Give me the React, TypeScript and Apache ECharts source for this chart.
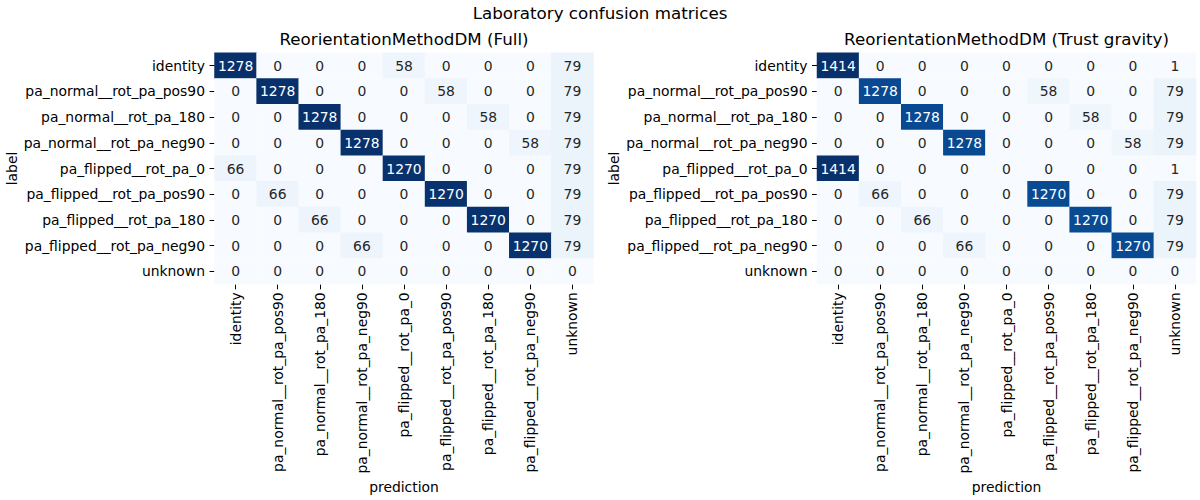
import React, { useEffect, useRef } from "react";
import * as echarts from "echarts";

const categories = [
  "identity",
  "pa_normal__rot_pa_pos90",
  "pa_normal__rot_pa_180",
  "pa_normal__rot_pa_neg90",
  "pa_flipped__rot_pa_0",
  "pa_flipped__rot_pa_pos90",
  "pa_flipped__rot_pa_180",
  "pa_flipped__rot_pa_neg90",
  "unknown",
];

const matrixFull = [
  [1278, 0, 0, 0, 58, 0, 0, 0, 79],
  [0, 1278, 0, 0, 0, 58, 0, 0, 79],
  [0, 0, 1278, 0, 0, 0, 58, 0, 79],
  [0, 0, 0, 1278, 0, 0, 0, 58, 79],
  [66, 0, 0, 0, 1270, 0, 0, 0, 79],
  [0, 66, 0, 0, 0, 1270, 0, 0, 79],
  [0, 0, 66, 0, 0, 0, 1270, 0, 79],
  [0, 0, 0, 66, 0, 0, 0, 1270, 79],
  [0, 0, 0, 0, 0, 0, 0, 0, 0],
];

const matrixTrust = [
  [1414, 0, 0, 0, 0, 0, 0, 0, 1],
  [0, 1278, 0, 0, 0, 58, 0, 0, 79],
  [0, 0, 1278, 0, 0, 0, 58, 0, 79],
  [0, 0, 0, 1278, 0, 0, 0, 58, 79],
  [1414, 0, 0, 0, 0, 0, 0, 0, 1],
  [0, 66, 0, 0, 0, 1270, 0, 0, 79],
  [0, 0, 66, 0, 0, 0, 1270, 0, 79],
  [0, 0, 0, 66, 0, 0, 0, 1270, 79],
  [0, 0, 0, 0, 0, 0, 0, 0, 0],
];

const suptitle = "Laboratory confusion matrices";
const subtitles = ["ReorientationMethodDM (Full)", "ReorientationMethodDM (Trust gravity)"];
const xName = "prediction";
const yName = "label";

const BLUES = [
  "#f7fbff",
  "#deebf7",
  "#c6dbef",
  "#9ecae1",
  "#6baed6",
  "#4292c6",
  "#2171b5",
  "#08519c",
  "#08306b",
];

const FONT = "DejaVu Sans";

function toData(m: number[][]) {
  const max = Math.max(...m.map((r) => Math.max(...r)));
  const out: any[] = [];
  m.forEach((row, yi) =>
    row.forEach((v, xi) => {
      out.push({
        value: [xi, yi, v],
        label: { color: v / max > 0.45 ? "#ffffff" : "#262626" },
      });
    })
  );
  return { data: out, max };
}

export default function App() {
  const ref = useRef<HTMLDivElement>(null);
  useEffect(() => {
    document.body.style.margin = "0";
    if (!ref.current) return;
    const chart = echarts.init(ref.current, undefined, { renderer: "svg" });
    const mats = [matrixFull, matrixTrust];
    const grids = [
      { left: 214.5, top: 52.7, width: 379, height: 231.6 },
      { left: 817, top: 52.7, width: 379, height: 231.6 },
    ];
    const built = mats.map(toData);
    const xAxes = grids.map((_, i) => ({
      type: "category",
      gridIndex: i,
      data: categories,
      position: "bottom",
      axisLine: { show: false },
      axisTick: { show: true, alignWithLabel: true, length: 5, inside: false, lineStyle: { color: "#000", width: 1 } },
      axisLabel: { rotate: 90, interval: 0, margin: 8, color: "#000", fontSize: 13.9, fontFamily: FONT },
      splitLine: { show: false },
      name: xName,
      nameLocation: "middle",
      nameGap: 196,
      nameTextStyle: { color: "#000", fontSize: 13.9, fontFamily: FONT },
    }));
    const yAxes = grids.map((_, i) => ({
      type: "category",
      gridIndex: i,
      data: categories,
      inverse: true,
      axisLine: { show: false },
      axisTick: { show: true, alignWithLabel: true, length: 5, inside: false, lineStyle: { color: "#000", width: 1 } },
      axisLabel: { interval: 0, margin: 9.5, color: "#000", fontSize: 13.9, fontFamily: FONT },
      splitLine: { show: false },
      name: yName,
      nameLocation: "middle",
      nameGap: 196,
      nameRotate: 90,
      nameTextStyle: { color: "#000", fontSize: 13.9, fontFamily: FONT },
    }));
    chart.setOption({
      animation: false,
      backgroundColor: "#ffffff",
      textStyle: { fontFamily: FONT },
      grid: grids,
      xAxis: xAxes,
      yAxis: yAxes,
      visualMap: built.map((b, i) => ({
        type: "continuous",
        show: false,
        seriesIndex: i,
        dimension: 2,
        min: 0,
        max: b.max,
        inRange: { color: BLUES },
      })),
      graphic: [
        {
          type: "text",
          x: 600,
          y: 12.5,
          style: { text: suptitle, fontSize: 16.7, fontFamily: FONT, fill: "#000", align: "center", verticalAlign: "middle" },
        },
        ...grids.map((g, i) => ({
          type: "text",
          x: g.left + g.width / 2,
          y: 39,
          style: { text: subtitles[i], fontSize: 16.7, fontFamily: FONT, fill: "#000", align: "center", verticalAlign: "middle" },
        })),
      ],
      series: built.map((b, i) => ({
        type: "heatmap",
        xAxisIndex: i,
        yAxisIndex: i,
        data: b.data,
        label: {
          show: true,
          fontSize: 13.9,
          fontFamily: FONT,
          formatter: (p: any) => String(p.value[2]),
        },
        itemStyle: { borderWidth: 0 },
        emphasis: { disabled: true },
      })),
    });
    return () => chart.dispose();
  }, []);
  return <div ref={ref} style={{ width: 1200, height: 500 }} />;
}
